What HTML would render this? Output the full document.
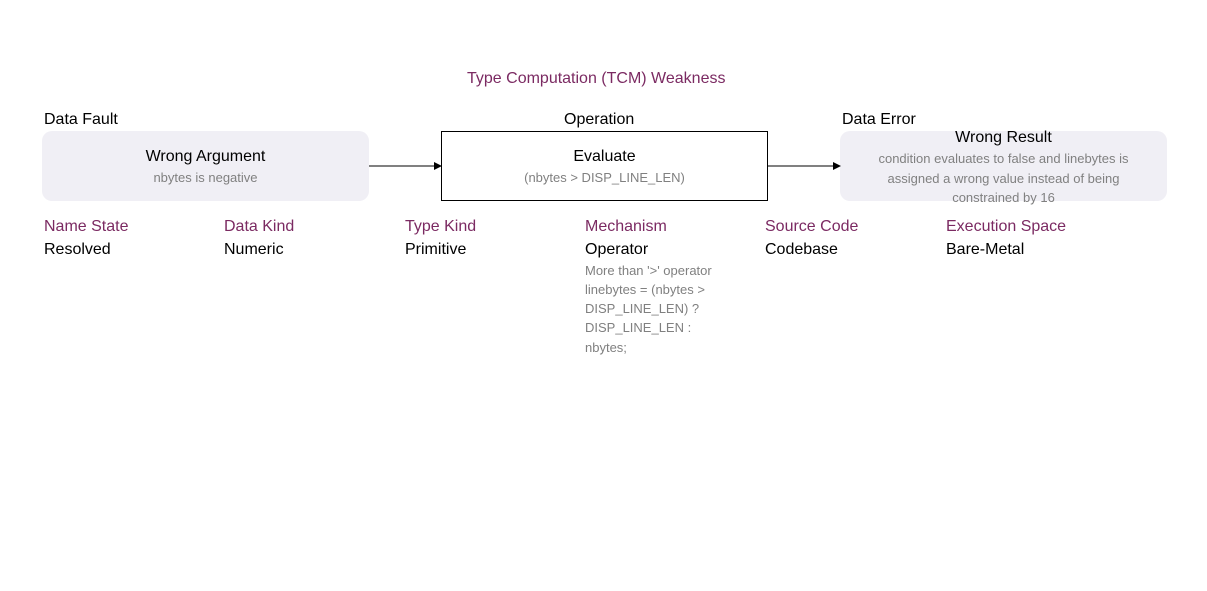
<!DOCTYPE html>
<html><head><meta charset="utf-8"><style>
body{margin:0;width:1207px;height:591px;background:#fff;position:relative;overflow:hidden;font-family:"Liberation Sans",sans-serif;}
.t{position:absolute;white-space:nowrap;line-height:1;}
.p{color:#7b2a62;font-size:16px;}
.k{color:#000;font-size:16px;}
.g{color:#808080;font-size:13px;}
.box{position:absolute;top:131px;width:327px;height:70px;box-sizing:border-box;text-align:center;}
.r{background:#f0eff5;border-radius:10px;}
</style></head><body>
<div class="t p" style="left:467px;top:71px;">Type Computation (TCM) Weakness</div>
<div class="t k" style="left:44px;top:112px;">Data Fault</div>
<div class="t k" style="left:564px;top:112px;">Operation</div>
<div class="t k" style="left:842px;top:112px;">Data Error</div>

<div class="box r" style="left:42px;">
 <div class="t k" style="left:0;width:327px;top:18px;">Wrong Argument</div>
 <div class="t g" style="left:0;width:327px;top:40px;">nbytes is negative</div>
</div>
<div class="box" style="left:441px;border:1px solid #000;">
 <div class="t k" style="left:0;width:325px;top:17px;">Evaluate</div>
 <div class="t g" style="left:0;width:325px;top:39px;">(nbytes &gt; DISP_LINE_LEN)</div>
</div>
<div class="box r" style="left:840px;">
 <div class="t k" style="left:0;width:327px;top:-1px;">Wrong Result</div>
 <div class="t g" style="left:0;width:327px;top:21px;">condition evaluates to false and linebytes is</div>
 <div class="t g" style="left:0;width:327px;top:41px;">assigned a wrong value instead of being</div>
 <div class="t g" style="left:0;width:327px;top:60px;">constrained by 16</div>
</div>

<svg width="1207" height="591" style="position:absolute;left:0;top:0">
<line x1="369" y1="166" x2="436" y2="166" stroke="#000" stroke-width="1"/>
<polygon points="442,166 434,162 434,170" fill="#000"/>
<line x1="768" y1="166" x2="835" y2="166" stroke="#000" stroke-width="1"/>
<polygon points="841,166 833,162 833,170" fill="#000"/>
</svg>

<div class="t p" style="left:44px;top:219px;">Name State</div>
<div class="t k" style="left:44px;top:242px;">Resolved</div>
<div class="t p" style="left:224px;top:219px;">Data Kind</div>
<div class="t k" style="left:224px;top:242px;">Numeric</div>
<div class="t p" style="left:405px;top:219px;">Type Kind</div>
<div class="t k" style="left:405px;top:242px;">Primitive</div>
<div class="t p" style="left:585px;top:219px;">Mechanism</div>
<div class="t k" style="left:585px;top:242px;">Operator</div>
<div class="t g" style="left:585px;top:264px;">More than '&gt;' operator</div>
<div class="t g" style="left:585px;top:283px;">linebytes = (nbytes &gt;</div>
<div class="t g" style="left:585px;top:302px;">DISP_LINE_LEN) ?</div>
<div class="t g" style="left:585px;top:321px;">DISP_LINE_LEN :</div>
<div class="t g" style="left:585px;top:341px;">nbytes;</div>
<div class="t p" style="left:765px;top:219px;">Source Code</div>
<div class="t k" style="left:765px;top:242px;">Codebase</div>
<div class="t p" style="left:946px;top:219px;">Execution Space</div>
<div class="t k" style="left:946px;top:242px;">Bare-Metal</div>
</body></html>
